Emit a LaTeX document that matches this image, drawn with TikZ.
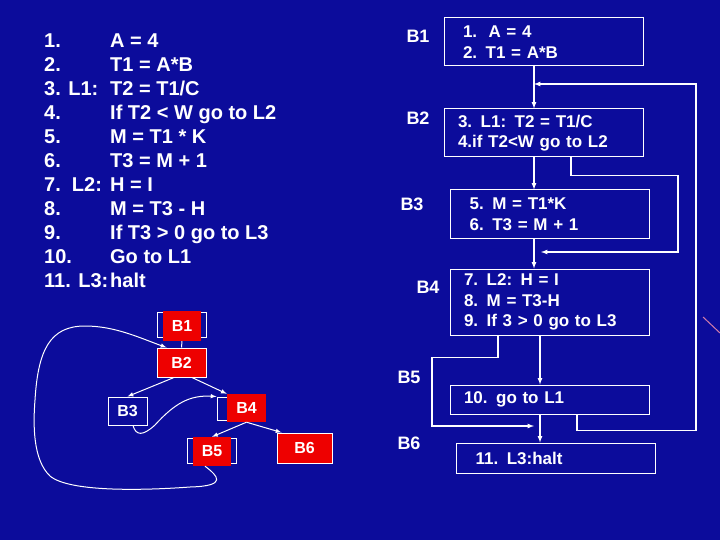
\documentclass[tikz,border=0pt]{standalone}
\usepackage{fontspec}
\setmainfont{Liberation Sans}
\usetikzlibrary{positioning}
\definecolor{slidebg}{RGB}{12,12,155}
\definecolor{boxred}{RGB}{238,0,0}

\begin{document}
\begin{tikzpicture}[
    x=1pt, y=-1pt,
    node distance=30pt,
    blk/.style={
        rectangle,draw=white,line width=1pt,
        text=white,
        font=\fontsize{17}{20.5}\selectfont\bfseries,
        text width=171pt,
        inner xsep=14pt, inner ysep=0pt,
        align=left
    },
    lbl/.style={text=white, inner sep=0pt, font=\fontsize{18}{20}\selectfont\bfseries},
    arrow/.style={-latex, white, line width=1.2pt},
    gnode/.style={
        rectangle,fill=boxred,
        text=white, inner sep=0pt,
        font=\fontsize{16}{18}\selectfont\bfseries
    },
    gframe/.style={
        rectangle,draw=white,line width=1pt,
        text=white, inner sep=0pt,
        font=\fontsize{16}{18}\selectfont\bfseries
    },
    gedge/.style={-latex, white, line width=1pt}
]
\useasboundingbox (0,0) rectangle (720,540);
\fill[slidebg] (0,0) rectangle (720,540);
\draw[violet!35!pink, line width=1pt] (703,317) -- (720,333);

% three-address code
\node[anchor=base west, inner sep=0pt, text=white,
      font=\fontsize{20}{24}\selectfont\bfseries] (listing) at (44,48) {%
  \begin{tabular}[t]{@{}p{66pt}@{}l@{}}
  1.       & A = 4\\
  2.       & T1 = A*B\\
  3. L1:   & T2 = T1/C\\
  4.       & If T2 < W go to L2\\
  5.       & M = T1 * K\\
  6.       & T3 = M + 1\\
  7.\ \ L2: & H = I\\
  8.       & M = T3 - H\\
  9.       & If T3 > 0 go to L3\\
  10.      & Go to L1\\
  11. L3:  & halt
  \end{tabular}};

% basic blocks
\node[blk, minimum height=48pt] (b1) at (543.5,42) {\hspace{5pt}1.\ \ A = 4\\\hspace{5pt}2. T1 = A*B};
\node[blk, minimum height=48pt, below=42pt of b1] (b2) {3. L1: T2 = T1/C\\4.if T2<W go to L2};
\node[blk, minimum height=48pt, below=32pt of b2, xshift=6pt] (b3) {\ 5. M = T1*K\\\ 6. T3 = M + 1};
\node[blk, minimum height=66pt, below=30pt of b3] (b4) {7. L2: H = I\\8. M = T3-H\\9. If 3 > 0 go to L3};
\node[blk, minimum height=29pt, below=49pt of b4] (b5) {10. go to L1};
\node[blk, minimum height=30pt, below=28pt of b5, xshift=6pt] (b6) {\ 11. L3:halt};

\node[lbl] (lab1) at (418,36) {B1};
\node[lbl] (lab2) at (418,118) {B2};
\node[lbl] (lab3) at (412,204) {B3};
\node[lbl] (lab4) at (428,287) {B4};
\node[lbl] (lab5) at (409,377) {B5};
\node[lbl] (lab6) at (409,443) {B6};

\coordinate (jb2) at (534,84);
\coordinate (jb4) at (541,252);
\coordinate (jb6) at (534,426);
\coordinate (rt1) at (696,84);
\coordinate (rt2) at (678,252);
\coordinate (lt6) at (432,426);

\draw[arrow] ([xshift=-9.5pt]b1.south) -- ([xshift=-9.5pt]b2.north);
\draw[arrow] ([xshift=-9.5pt]b2.south) -- ([xshift=-15.5pt]b3.north);
\draw[arrow] ([xshift=-15.5pt]b3.south) -- ([xshift=-15.5pt]b4.north);
\draw[arrow] ([xshift=-9.5pt]b4.south) -- ([xshift=-9.5pt]b5.north);
\draw[arrow] ([xshift=-9.5pt]b5.south) -- ([xshift=-15.5pt]b6.north);
\draw[arrow] ([xshift=27.5pt]b5.south) -- ++(0,16) -| (rt1) -- (jb2);
\draw[arrow] ([xshift=27.5pt]b2.south) -- ++(0,18) -| (rt2) -- (jb4);
\draw[arrow] ([xshift=-51.5pt]b4.south) -- ++(0,22) -| (lt6) -- (jb6);

% flow graph
\node[gframe, minimum width=49pt, minimum height=25pt] (g1f) at (181.5,324.5) {};
\node[gnode, minimum width=38pt, minimum height=30pt] (g1) at (182,326) {B1};
\node[gnode, draw=white, line width=1pt, minimum width=49pt, minimum height=29pt] (g2) at (181.5,362.5) {B2};
\node[gframe, minimum width=39pt, minimum height=28pt] (g3) at (127.5,411) {B3};
\node[gframe, minimum width=45pt, minimum height=23pt] (g4f) at (239.5,408.5) {};
\node[gnode, minimum width=39pt, minimum height=28pt] (g4) at (246.5,408) {B4};
\node[gframe, minimum width=49pt, minimum height=25pt] (g5f) at (211.5,450.5) {};
\node[gnode, minimum width=38pt, minimum height=29pt] (g5) at (212,451.5) {B5};
\node[gnode, draw=white, line width=1pt, minimum width=55pt, minimum height=30pt] (g6) at (304.5,448) {B6};

\draw[white, line width=1pt] (g1) -- (g2);
\draw[gedge] ([xshift=-7.5pt]g2.south) -- (g3.north);
\draw[gedge] ([xshift=10.5pt]g2.south) -- (g4.north west);
\draw[gedge] ([xshift=5.5pt]g3.south) .. controls (136,436) and (143,436) .. (155,425)
    .. controls (175,403) and (190,395) .. (g4f.north west);
\draw[gedge] (g4.south) -- (g5.north);
\draw[gedge] (g4.south) -- ([xshift=5pt]g6.north west);
\draw[gedge] ([xshift=-7pt]g5.south) .. controls (218,476) and (228,486) .. (190,487)
    .. controls (150,490) and (70,493) .. (50,476)
    .. controls (33,460) and (33,425) .. (35,400)
    .. controls (38,350) and (50,326) .. (85,326)
    .. controls (115,326) and (140,338) .. ([xshift=10pt]g2.north west);
\end{tikzpicture}
\end{document}
